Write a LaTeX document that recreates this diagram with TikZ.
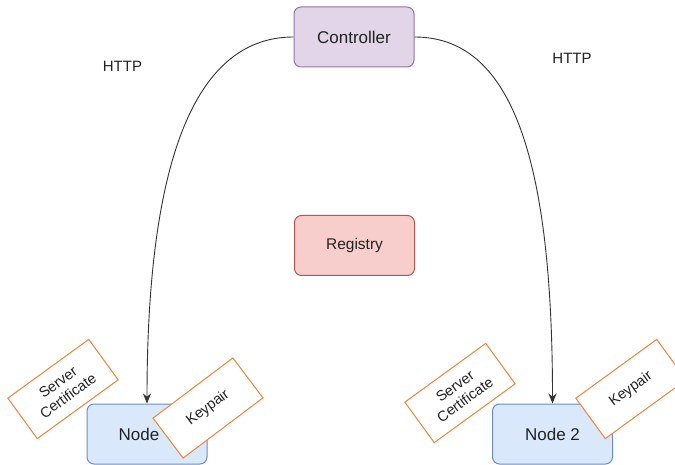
\documentclass[tikz,border=0pt]{standalone}
\usepackage{fontspec}
\setmainfont{Liberation Sans}
\usetikzlibrary{arrows.meta}
\definecolor{ctrlfill}{HTML}{E1D5E7}
\definecolor{ctrldraw}{HTML}{9673A6}
\definecolor{regfill}{HTML}{F8CECC}
\definecolor{regdraw}{HTML}{B85450}
\definecolor{nodefill}{HTML}{DAE8FC}
\definecolor{nodedraw}{HTML}{6C8EBF}
\definecolor{tagdraw}{HTML}{F0843A}
\definecolor{txt}{HTML}{222222}
\tikzset{
  box/.style={rectangle, rounded corners=7pt, minimum width=120pt, minimum height=60pt,
    inner sep=0pt, line width=1pt, text=txt},
  ctrlbox/.style={box, fill=ctrlfill, draw=ctrldraw, font=\fontsize{17}{20}\selectfont},
  regbox/.style={box, fill=regfill, draw=regdraw, font=\fontsize{15.5}{18}\selectfont},
  hostbox/.style={box, fill=nodefill, draw=nodedraw, font=\fontsize{17}{20}\selectfont},
  tag/.style={rectangle, fill=white, draw=tagdraw, line width=1pt, minimum width=100pt,
    minimum height=50pt, inner sep=0pt, align=center, text=txt,
    font=\fontsize{14.5}{17}\selectfont},
  label/.style={text=txt, font=\fontsize{15}{18}\selectfont},
  link/.style={line width=0.9pt, draw=black!80, -{Stealth[length=10pt,width=8pt]}}
}
\begin{document}
\begin{tikzpicture}[x=1pt,y=-1pt]
  \useasboundingbox (0,0) rectangle (675,465);
  \clip (0,0) rectangle (675,465);
  \fill[white] (0,0) rectangle (675,465);

  % main components
  \node[ctrlbox] (ctrl) at (354,37) {Controller};
  \node[regbox] (reg) at (354.5,245.5) {Registry};
  \node[hostbox] (n1) at (147,434) {Node\hspace*{16pt}};
  \node[hostbox] (n2) at (552.5,434) {Node 2};

  % HTTP connections from the controller to each node
  \draw[link] (ctrl.west) .. controls +(-94,0) and +(0,-254) .. (n1.north);
  \draw[link] (ctrl.east) .. controls +(94,0) and +(0,-254) .. (n2.north);

  \node[label] (h1) at (122.5,66) {HTTP};
  \node[label] (h2) at (572,58) {HTTP};

  % credentials held by each node
  \node[tag, rotate=36] (c1) at (63,389) {Server\\Certificate};
  \node[tag, rotate=37] (k1) at (208,408) {Keypair};
  \node[tag, rotate=36] (c2) at (460,393) {Server\\Certificate};
  \node[tag, rotate=36] (k2) at (631,389) {Keypair};
\end{tikzpicture}
\end{document}
